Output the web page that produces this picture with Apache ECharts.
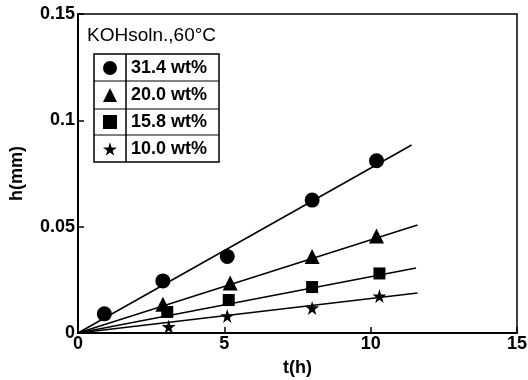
<!DOCTYPE html>
<html>
<head>
<meta charset="utf-8">
<script src="https://cdn.jsdelivr.net/npm/echarts@6/dist/echarts.min.js"></script>
<style>html,body{margin:0;padding:0;background:#fff}#c{width:528px;height:380px}</style>
</head>
<body>
<div id="c"></div>
<script>
var seriesNames = ['31.4 wt%', '20.0 wt%', '15.8 wt%', '10.0 wt%'];
var pts314 = [[0.9, 0.009], [2.9, 0.0245], [5.1, 0.036], [8.0, 0.0625], [10.2, 0.081]];
var pts200 = [[2.9, 0.0135], [5.2, 0.0235], [8.0, 0.036], [10.2, 0.0456]];
var pts158 = [[3.05, 0.0099], [5.15, 0.0155], [8.0, 0.0216], [10.3, 0.028]];
var pts100 = [[3.1, 0.003], [5.1, 0.008], [8.0, 0.0118], [10.3, 0.0174]];
var fit314 = [[0, 0], [11.4, 0.0884]];
var fit200 = [[0, 0], [11.6, 0.0508]];
var fit158 = [[0, 0], [11.55, 0.0306]];
var fit100 = [[0, 0], [11.6, 0.0188]];
var xTicks = [0, 5, 10, 15];
var yTickLabels = {'0': '0', '0.05': '0.05', '0.1': '0.1', '0.15': '0.15'};
var titleText = 'KOHsoln.,60°C';

var starPath = 'path://M50,0 L61,35 L98,35 L68,57 L79,91 L50,70 L21,91 L32,57 L2,35 L39,35 Z';
var symbols = ['circle', 'triangle', 'rect', starPath];
var symbolSizes = [15, 15, 12, 14];
var ptsAll = [pts314, pts200, pts158, pts100];
var fitsAll = [fit314, fit200, fit158, fit100];

var series = [];
fitsAll.forEach(function (f, i) {
  series.push({
    type: 'line', name: 'fit' + i, data: f, symbol: 'none', silent: true,
    lineStyle: {color: '#000', width: 1.5}, z: 2
  });
});
ptsAll.forEach(function (p, i) {
  series.push({
    type: 'scatter', name: seriesNames[i], data: p, symbol: symbols[i],
    symbolSize: symbolSizes[i], itemStyle: {color: '#000', opacity: 1}, z: 3
  });
});

var font = '"Liberation Sans", Arial, sans-serif';
var chart = echarts.init(document.getElementById('c'), null, {renderer: 'canvas'});
chart.setOption({
  animation: false,
  backgroundColor: '#fff',
  grid: {left: 78, right: 11, top: 14, bottom: 47, show: true, borderColor: '#000', borderWidth: 1.5,
    containLabel: false, outerBoundsMode: 'none'},
  xAxis: {
    type: 'value', min: 0, max: 15, interval: 5,
    name: 't(h)', nameLocation: 'middle', nameGap: 26,
    nameTextStyle: {color: '#000', fontSize: 18, fontWeight: 'bold', fontFamily: font},
    axisLine: {lineStyle: {color: '#000', width: 2}},
    axisTick: {inside: true, length: 6, lineStyle: {color: '#000', width: 1.5}},
    axisLabel: {color: '#000', fontSize: 18, fontWeight: 'bold', fontFamily: font, margin: 2},
    splitLine: {show: false}
  },
  yAxis: {
    type: 'value', min: 0, max: 0.15, interval: 0.05,
    name: 'h(mm)', nameLocation: 'middle', nameGap: 52, nameRotate: 90,
    nameTextStyle: {color: '#000', fontSize: 18, fontWeight: 'bold', fontFamily: font},
    axisLine: {lineStyle: {color: '#000', width: 2}},
    axisTick: {inside: true, length: 6, lineStyle: {color: '#000', width: 1.5}},
    axisLabel: {color: '#000', fontSize: 18, fontWeight: 'bold', fontFamily: font, margin: 3,
      formatter: function (v) { var k = String(+v.toFixed(2)); return yTickLabels[k] !== undefined ? yTickLabels[k] : k; }},
    splitLine: {show: false}
  },
  legend: {
    data: seriesNames, orient: 'vertical', left: 103, top: 59,
    itemWidth: 14, itemHeight: 14, itemGap: 9, padding: 0,
    textStyle: {color: '#000', fontSize: 18, fontWeight: 'bold', fontFamily: font, padding: [0, 0, 0, 9]},
    selectedMode: false
  },
  graphic: [
    {type: 'text', left: 87, top: 26, style: {text: titleText, fill: '#000', font: '19px ' + font}},
    {type: 'rect', shape: {x: 94, y: 54, width: 125, height: 108}, style: {fill: 'none', stroke: '#000', lineWidth: 1.5}},
    {type: 'line', shape: {x1: 126, y1: 54, x2: 126, y2: 162}, style: {stroke: '#000', lineWidth: 1.5}},
    {type: 'line', shape: {x1: 94, y1: 81, x2: 219, y2: 81}, style: {stroke: '#000', lineWidth: 1}},
    {type: 'line', shape: {x1: 94, y1: 109, x2: 219, y2: 109}, style: {stroke: '#000', lineWidth: 1}},
    {type: 'line', shape: {x1: 94, y1: 135, x2: 219, y2: 135}, style: {stroke: '#000', lineWidth: 1}}
  ],
  series: series
});
</script>
</body>
</html>
